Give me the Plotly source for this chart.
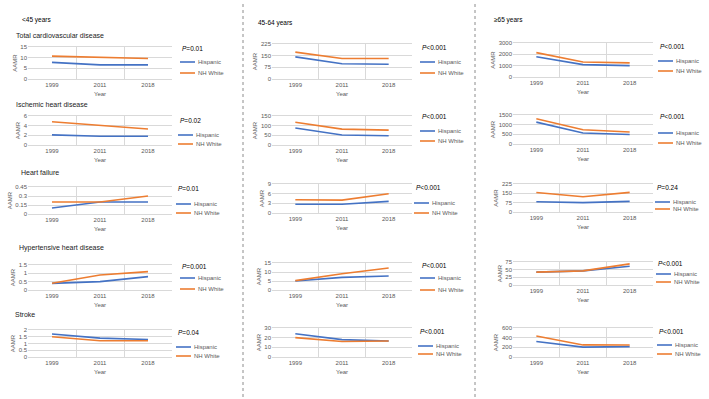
import plotly.graph_objects as go

# ---------------- data ----------------
years = ["1999", "2011", "2018"]
series_names = ["Hispanic", "NH White"]
age_groups = ["<45 years", "45-64 years", "≥65 years"]
diseases = ["Total cardiovascular disease", "Ischemic heart disease", "Heart failure",
            "Hypertensive heart disease", "Stroke"]

# AAMR values, one row per disease (in the order of `diseases`), one value per year
hispanic_lt45 = [[7.8, 6.6, 6.6], [2.1, 1.8, 1.8], [0.1, 0.2, 0.2], [0.4, 0.5, 0.8], [1.7, 1.4, 1.3]]
nhwhite_lt45 = [[10.7, 10.1, 9.6], [4.8, 4.1, 3.3], [0.2, 0.2, 0.3], [0.4, 0.9, 1.1], [1.5, 1.2, 1.2]]
hispanic_45_64 = [[142, 98, 95], [88, 52, 48], [2.7, 2.7, 3.6], [5.0, 7.0, 7.8], [24, 18, 16.5]]
nhwhite_45_64 = [[173, 132, 132], [118, 82, 77], [4.1, 4.0, 6.0], [5.2, 9.0, 12.2], [20, 16, 16.5]]
hispanic_65plus = [[1790, 1090, 1000], [1130, 570, 490], [82, 75, 85], [42, 46, 61], [320, 205, 215]]
nhwhite_65plus = [[2150, 1330, 1250], [1310, 740, 620], [157, 123, 158], [42, 46, 69], [435, 250, 248]]

p_lt45 = ["=0.01", "=0.02", "=0.01", "=0.001", "=0.04"]
p_45_64 = ["<0.001", "<0.001", "<0.001", "<0.001", "<0.001"]
p_65plus = ["<0.001", "<0.001", "=0.24", "<0.001", "<0.001"]

yticks_lt45 = [[0, 5, 10, 15], [0, 2, 4, 6], [0, 0.15, 0.3, 0.45], [0, 0.5, 1, 1.5], [0, 0.5, 1, 1.5, 2]]
yticks_45_64 = [[0, 75, 150, 225], [0, 50, 100, 150], [0, 3, 6, 9], [0, 5, 10, 15], [0, 10, 20, 30]]
yticks_65plus = [[0, 1000, 2000, 3000], [0, 500, 1000, 1500], [0, 75, 150, 225], [0, 25, 50, 75], [0, 200, 400, 600]]

hispanic_all = [hispanic_lt45, hispanic_45_64, hispanic_65plus]
nhwhite_all = [nhwhite_lt45, nhwhite_45_64, nhwhite_65plus]
p_all = [p_lt45, p_45_64, p_65plus]
yticks_all = [yticks_lt45, yticks_45_64, yticks_65plus]

# ---------------- styling / geometry (pixels) ----------------
W, H = 709, 399
FONT = "Liberation Sans, Arial, sans-serif"
COLORS = ["#4472C4", "#ED7D31"]
GRID = "#D9D9D9"
TICKC = "#595959"

col_x = [(28, 172), (272, 412), (513, 653)]
row_y = [
    [(47, 79), (116, 145), (187, 214), (265, 290), (330, 357)],
    [(44, 79), (116, 145), (184, 213), (263, 290), (328, 357)],
    [(43, 77), (115, 144), (184, 212), (262, 285), (328, 357)],
]
leg_x = [[180, 178, 176, 180, 176], [420, 420, 414, 420, 418], [658, 658, 655, 656, 657]]
leg_y = [
    [(48, 62, 73), (121, 135, 144), (189, 204, 213), (266, 278, 289), (332, 347, 356)],
    [(47, 62, 73), (117, 131, 141), (187, 203, 213), (265, 278, 290), (331, 346, 354)],
    [(46, 61, 71), (117, 133, 143), (187, 202, 209), (263, 274, 282), (331, 345, 354)],
]
age_pos = [(20, 20), (256, 23), (492, 20)]
title_pos = [(14, 35), (14, 104), (19, 172), (17, 248), (13, 314)]
sep_x = [243, 475]


def fx(x):
    return x / W


def fy(y):
    return 1 - y / H


# category positions on the x axis and the boundaries between categories
xpos = list(range(len(years)))
xbounds = [i + 0.5 for i in range(len(years) - 1)]

fig = go.Figure()
layout = dict(
    width=W, height=H, margin=dict(l=0, r=0, t=0, b=0),
    paper_bgcolor="white", plot_bgcolor="white",
    font=dict(family=FONT, size=6, color=TICKC),
    showlegend=False,
)
annotations = []
shapes = []

idx = 0
for c in range(3):
    for r in range(5):
        idx += 1
        sfx = "" if idx == 1 else str(idx)
        xa, ya = "x" + sfx, "y" + sfx
        for s, (name, vals) in enumerate(zip(series_names, [hispanic_all[c][r], nhwhite_all[c][r]])):
            fig.add_trace(go.Scatter(
                x=xpos, y=vals, mode="lines", name=name,
                customdata=years,
                line=dict(color=COLORS[s], width=1.6),
                xaxis=xa, yaxis=ya, showlegend=False,
                hovertemplate=name + " %{customdata}: %{y}<extra></extra>",
            ))
        x0, x1 = col_x[c]
        y0, y1 = row_y[c][r]
        ticks = yticks_all[c][r]
        layout["xaxis" + sfx] = dict(
            domain=[fx(x0), fx(x1)], anchor=ya, type="linear",
            range=[-0.5, len(years) - 0.5],
            tickmode="array", tickvals=xpos, ticktext=years, showgrid=False,
            minor=dict(tickmode="array", tickvals=xbounds, showgrid=True,
                       gridcolor=GRID, gridwidth=1, ticks=""),
            showline=True, linecolor=GRID, linewidth=1, mirror=True, zeroline=False,
            ticks="", tickfont=dict(size=6, color=TICKC),
            title=dict(text="Year", font=dict(size=6, color=TICKC), standoff=4),
            fixedrange=True, automargin=False,
        )
        layout["yaxis" + sfx] = dict(
            domain=[fy(y1), fy(y0)], anchor=xa, range=[0, ticks[-1]],
            tickvals=ticks, showgrid=True, gridcolor=GRID, gridwidth=1,
            zeroline=False, showline=False, ticks="",
            tickfont=dict(size=6, color=TICKC),
            title=dict(text="AAMR", font=dict(size=6, color=TICKC), standoff=2),
            fixedrange=True, automargin=False,
        )
        # p-value
        py, hy, ny = leg_y[c][r]
        lx = leg_x[c][r]
        annotations.append(dict(
            xref="paper", yref="paper", x=fx(lx), y=fy(py), xanchor="left", yanchor="middle",
            text="<i>P</i>" + p_all[c][r], showarrow=False,
            font=dict(size=6.5, color="#000000", family=FONT),
        ))
        # legend entries
        for s, yy in enumerate([hy, ny]):
            shapes.append(dict(
                type="line", xref="paper", yref="paper",
                x0=fx(lx), x1=fx(lx + 15), y0=fy(yy), y1=fy(yy),
                line=dict(color=COLORS[s], width=1.6),
            ))
            annotations.append(dict(
                xref="paper", yref="paper", x=fx(lx + 16), y=fy(yy), xanchor="left", yanchor="middle",
                text=series_names[s], showarrow=False,
                font=dict(size=6, color=TICKC, family=FONT),
            ))

# age-group headers
for c in range(3):
    ax_, ay_ = age_pos[c]
    annotations.append(dict(
        xref="paper", yref="paper", x=fx(ax_), y=fy(ay_), xanchor="left", yanchor="middle",
        text=age_groups[c], showarrow=False, font=dict(size=6.5, color="#000000", family=FONT),
    ))
# disease titles (first column)
for r in range(5):
    tx, ty = title_pos[r]
    annotations.append(dict(
        xref="paper", yref="paper", x=fx(tx), y=fy(ty), xanchor="left", yanchor="middle",
        text=diseases[r], showarrow=False, font=dict(size=7, color="#1a1a1a", family=FONT),
    ))
# dotted separators
for sx in sep_x:
    shapes.append(dict(
        type="line", xref="paper", yref="paper", x0=fx(sx), x1=fx(sx), y0=fy(397), y1=fy(2),
        line=dict(color="#8c8c8c", width=1, dash="dot"),
    ))

layout["annotations"] = annotations
layout["shapes"] = shapes
fig.update_layout(**layout)
fig.write_html(
    "out.html",
    config={"displayModeBar": False},
    post_script="document.body.style.margin='0';document.body.style.overflow='hidden';",
)
